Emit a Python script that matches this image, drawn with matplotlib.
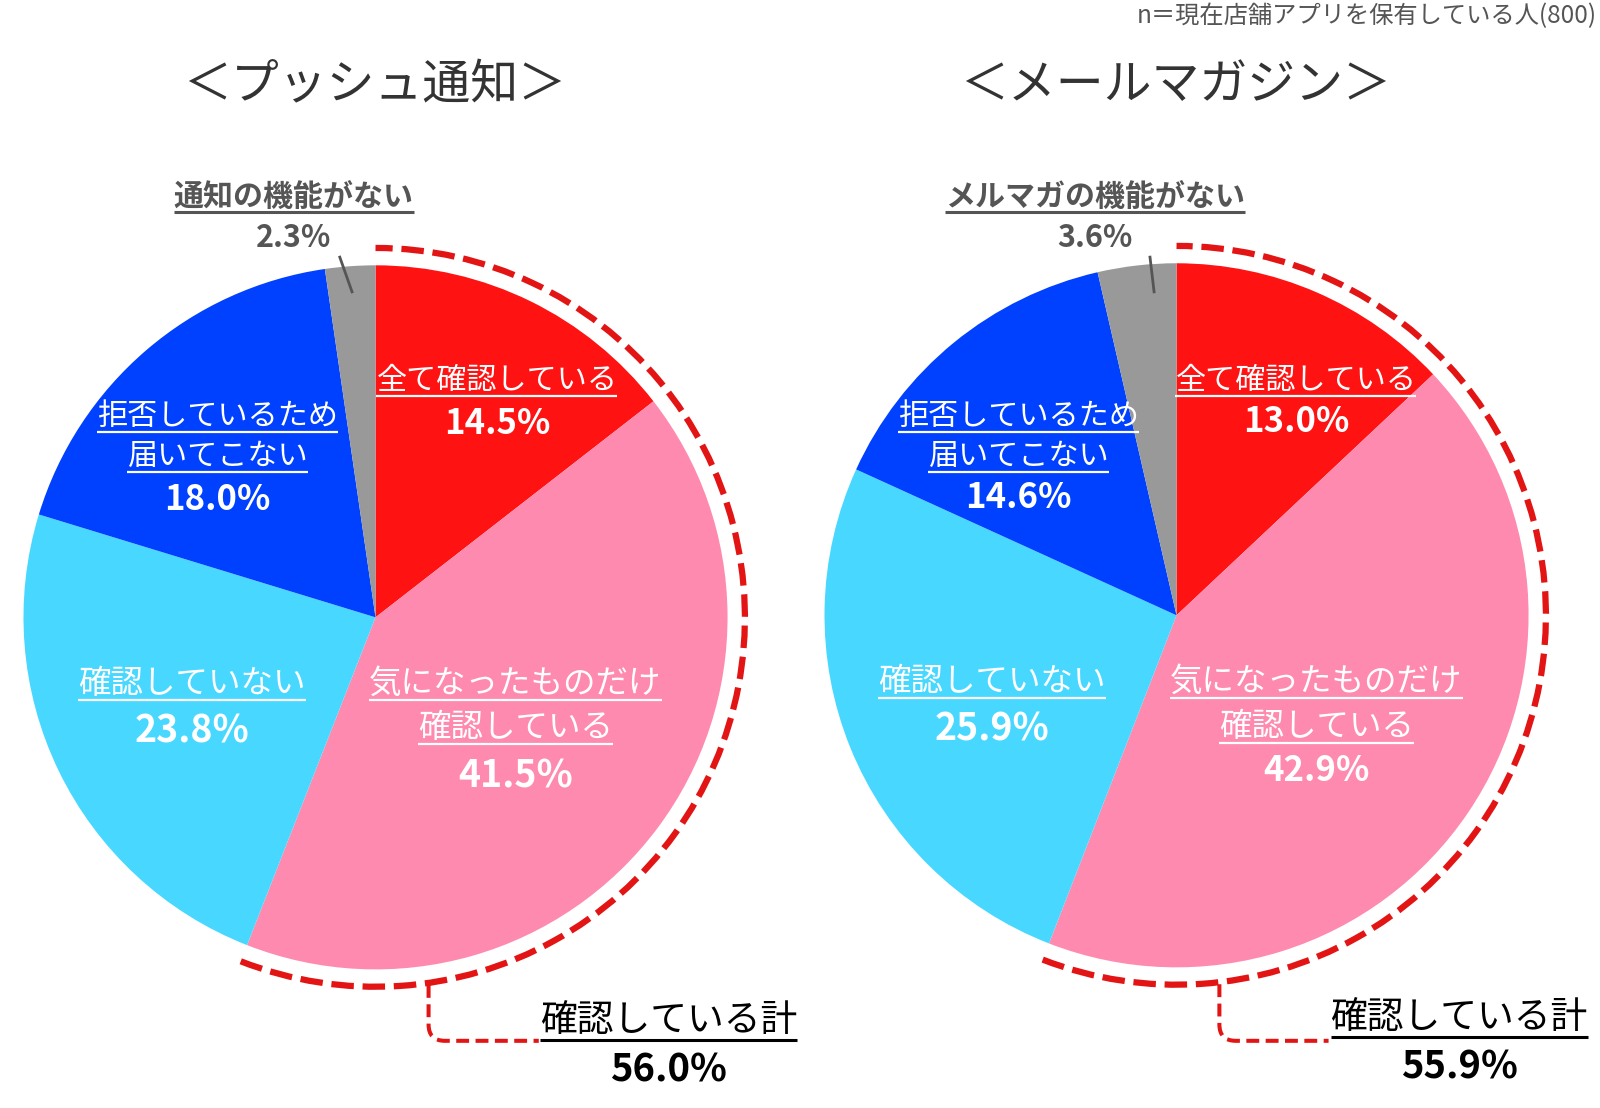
import matplotlib
matplotlib.use("Agg")
import matplotlib.pyplot as plt
from matplotlib.patches import Arc, PathPatch
from matplotlib.path import Path
import numpy as np

plt.rcParams['font.family'] = ['Noto Sans CJK JP', 'DejaVu Sans']

# ---------------- data ----------------
categories = ["全て確認している", "気になったものだけ\n確認している", "確認していない",
              "拒否しているため\n届いてこない"]
push_none_label = "通知の機能がない"
mail_none_label = "メルマガの機能がない"
push_values = [14.5, 41.5, 23.8, 18.0, 2.3]
mail_values = [13.0, 42.9, 25.9, 14.6, 3.6]
push_total = 56.0
mail_total = 55.9
titles = ["＜プッシュ通知＞", "＜メールマガジン＞"]
total_label = "確認している計"
note = "n＝現在店舗アプリを保有している人(800)"
colors = ["#FF1212", "#FF8AAF", "#48D8FF", "#0041FF", "#999999"]

W, H = 1600, 1108
S = 1600 / 1568.0  # layout scale
fig = plt.figure(figsize=(W / 100, H / 100), dpi=100)
ax = fig.add_axes([0, 0, 1, 1])


def X(p):
    return p * S


def Y(p):
    return H - p * S


underlines = []


def txt(x, y, s, size, color, weight='normal', ul=None, ha='center'):
    t = ax.text(X(x), Y(y), s, ha=ha, va='center', fontsize=size, color=color,
                fontweight=weight)
    if ul is not None:
        underlines.append((t, ul, color))
    return t


label_sizes = [21.7, 23.4, 23.4, 21.7]
charts = [
    dict(cx=368, cy=605, vals=push_values, none=push_none_label, total=push_total,
         title=titles[0], pct_sizes=[25, 27, 27, 25],
         lab=[(487, 373, 415), (505, (670, 713), 760), (188, 670, 716), (213, (408, 447), 490)],
         none_pos=(288, 193, 233), none_leader=((333, 252), (345, 286)),
         lead_x=420, lead_end=528, lead_y=1020, tot=(655, 1000, 1049)),
    dict(cx=1153, cy=603, vals=mail_values, none=mail_none_label, total=mail_total,
         title=titles[1], pct_sizes=[25, 25, 27, 25],
         lab=[(1270, 373, 413), (1290, (668, 712), 755), (972, 668, 714), (998, (408, 447), 488)],
         none_pos=(1073, 193, 233), none_leader=((1127, 252), (1131, 286)),
         lead_x=1195, lead_end=1302, lead_y=1020, tot=(1430, 997, 1046)),
]

R = 345
R_ARC = 362
for c in charts:
    cx, cy = c['cx'], c['cy']
    ax.pie(c['vals'], colors=colors, startangle=90, counterclock=False,
           center=(X(cx), Y(cy)), radius=R * S, wedgeprops=dict(linewidth=0))
    # dashed arc around the "confirmed" slices
    frac = (c['vals'][0] + c['vals'][1]) / sum(c['vals'])
    end_angle = 90 - 360 * frac
    ax.add_patch(Arc((X(cx), Y(cy)), 2 * R_ARC * S, 2 * R_ARC * S, theta1=end_angle, theta2=90,
                     color="#E31414", lw=4.5, linestyle=(0, (3.6, 1.4)),
                     capstyle='butt', zorder=5))
    # leader from arc to total label
    lx = c['lead_x']
    y0 = cy + np.sqrt(R_ARC ** 2 - (lx - cx) ** 2) + 2
    ly = c['lead_y']
    r = 16
    verts = [(X(lx), Y(y0)), (X(lx), Y(ly - r)), (X(lx), Y(ly)), (X(lx + r), Y(ly)),
             (X(c['lead_end']), Y(ly))]
    codes = [Path.MOVETO, Path.LINETO, Path.CURVE3, Path.CURVE3, Path.LINETO]
    ax.add_patch(PathPatch(Path(verts, codes), fill=False, edgecolor="#E31414",
                           lw=2.9, linestyle=(0, (3.2, 1.6)), zorder=5))
    # title
    txt(cx, 84, c['title'], 34.5, "#333333")
    # inner labels
    vals = c['vals']
    for i, (lab, pos) in enumerate(zip(categories, c['lab'])):
        x, ys, py = pos
        lines = lab.split("\n")
        if not isinstance(ys, tuple):
            ys = (ys,)
        for line, yy in zip(lines, ys):
            txt(x, yy, line, label_sizes[i], "white", ul=1.6)
        txt(x, py, f"{vals[i]:.1f}%", c['pct_sizes'][i], "white", weight='bold')
    # outside label for the small slice
    nx, ny1, ny2 = c['none_pos']
    txt(nx, ny1, c['none'], 21.6, "#555555", weight='bold', ul=2.2)
    txt(nx, ny2, f"{vals[4]:.1f}%", 22, "#555555", weight='bold')
    (ax1, ay1), (ax2, ay2) = c['none_leader']
    ax.plot([X(ax1), X(ax2)], [Y(ay1), Y(ay2)], color="#555555", lw=2, zorder=6)
    # total label
    tx, ty1, ty2 = c['tot']
    txt(tx, ty1, total_label, 26.5, "black", ul=2.2)
    txt(tx, ty2, f"{c['total']:.1f}%", 27.5, "black", weight='bold')

txt(1565, 16, note, 17.5, "#555555", ha='right')

ax.set_xlim(0, W)
ax.set_ylim(0, H)
ax.set_aspect('auto')
ax.axis('off')

fig.canvas.draw()
renderer = fig.canvas.get_renderer()
inv = ax.transData.inverted()
for t, lw, col in underlines:
    bb = t.get_window_extent(renderer)
    (x0, y0), (x1, _) = inv.transform([(bb.x0, bb.y0), (bb.x1, bb.y1)])
    ax.plot([x0, x1], [y0, y0], color=col, lw=lw, solid_capstyle='butt', zorder=7)

fig.savefig("out.png", dpi=100, facecolor="white")
